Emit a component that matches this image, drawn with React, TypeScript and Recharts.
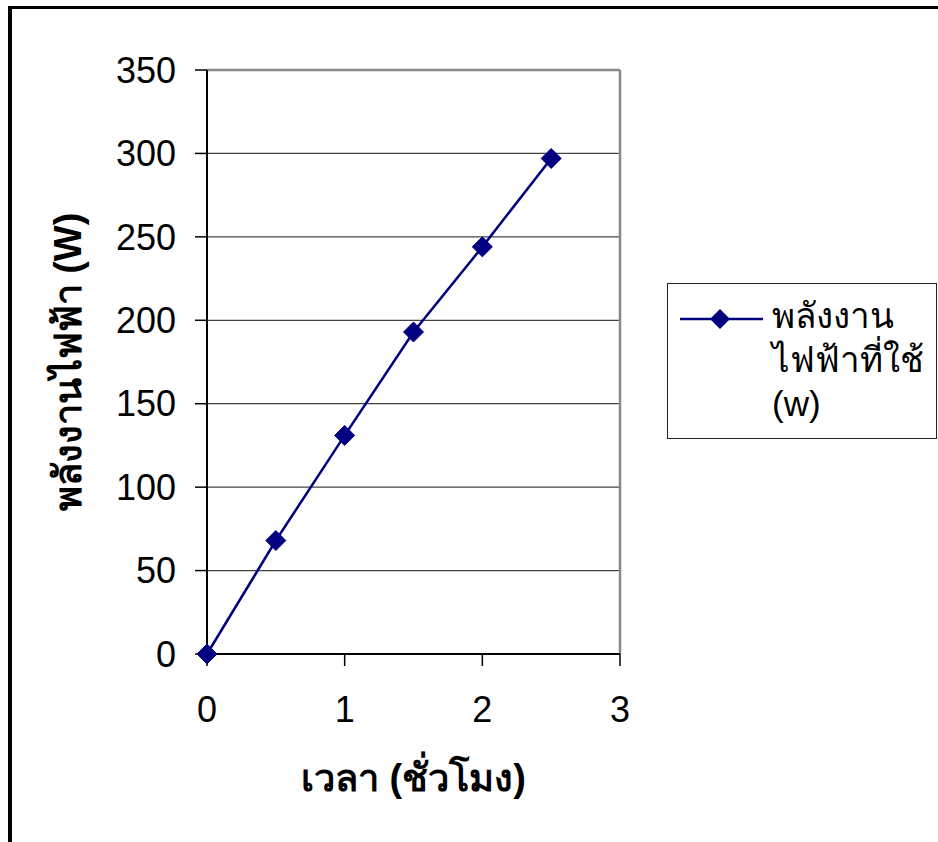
import React from 'react';
import { LineChart, Line, XAxis, YAxis, CartesianGrid, ReferenceLine, Label } from 'recharts';

const hours = [0, 0.5, 1, 1.5, 2, 2.5];
const power = [0, 68, 131, 193, 244, 297];
const xTicks = [0, 1, 2, 3];
const yTicks = [0, 50, 100, 150, 200, 250, 300, 350];
const seriesName = 'พลังงานไฟฟ้าที่ใช้ (w)';
const legendLines = ['พลังงาน', 'ไฟฟ้าที่ใช้', '(w)'];
const xTitle = 'เวลา (ชั่วโมง)';
const yTitle = 'พลังงานไฟฟ้า (W)';

const data = hours.map((h, i) => ({ h, p: power[i] }));

const NAVY = '#000080';
const FONT = 'Tahoma, "Liberation Sans", Arial, sans-serif';

const Diamond = (props: any) => {
  const { cx, cy } = props;
  if (cx == null || cy == null) return null;
  const r = 10;
  return <polygon points={`${cx},${cy - r} ${cx + r},${cy} ${cx},${cy + r} ${cx - r},${cy}`} fill={NAVY} stroke={NAVY} />;
};

const LegendBox = () => (
  <div style={{ position: 'absolute', left: 667, top: 283, boxSizing: 'border-box', width: 270, height: 156, border: '1.5px solid #222', background: '#fff', fontFamily: FONT }}>
    <svg width={100} height={40} style={{ position: 'absolute', left: 12, top: 15 }}>
      <line x1={0} y1={20} x2={83} y2={20} stroke={NAVY} strokeWidth={2.5} />
      <polygon points="40,10 50,20 40,30 30,20" fill={NAVY} />
    </svg>
    <div style={{ position: 'absolute', left: 104, top: 10, fontSize: 35, lineHeight: '44px', color: '#000', whiteSpace: 'nowrap' }}>
      {legendLines.map((l) => (
        <div key={l}>{l}</div>
      ))}
    </div>
  </div>
);

const YTitle = (props: any) => {
  const { viewBox } = props;
  const cx = viewBox.x + 68;
  const cy = viewBox.y + viewBox.height / 2;
  return (
    <text x={cx} y={cy} transform={`rotate(-90 ${cx} ${cy})`} textAnchor="middle" dominantBaseline="central" fontSize={38} fontWeight="bold" fontFamily={FONT} fill="#000">
      {yTitle}
    </text>
  );
};

const XTitle = (props: any) => {
  const { viewBox } = props;
  const cx = viewBox.x + viewBox.width / 2;
  const cy = viewBox.y + 124;
  return (
    <text x={cx} y={cy} textAnchor="middle" dominantBaseline="central" fontSize={38} fontWeight="bold" fontFamily={FONT} fill="#000">
      {xTitle}
    </text>
  );
};

export default function App() {
  return (
    <div style={{ position: 'absolute', left: 0, top: 0, width: 938, height: 842, background: '#fff', overflow: 'hidden' }}>
      <div style={{ position: 'absolute', left: 8, top: 6, width: 930, height: 836, boxSizing: 'border-box', borderTop: '3px solid #000', borderLeft: '4px solid #000' }} />
      <div style={{ position: 'absolute', left: 0, top: 0 }}>
        <LineChart width={938} height={842} data={data} margin={{ top: 70, right: 318, bottom: 128, left: 0 }}>
          <CartesianGrid horizontal vertical={false} stroke="#444" strokeWidth={1.3} />
          <XAxis
            dataKey="h"
            type="number"
            domain={[0, 3]}
            ticks={xTicks}
            height={60}
            tickSize={12}
            tickMargin={30}
            axisLine={{ stroke: '#000', strokeWidth: 2 }}
            tickLine={{ stroke: '#000', strokeWidth: 1.5 }}
            tick={{ fontSize: 36, fill: '#000', fontFamily: '"Liberation Sans", Arial, sans-serif' }}
          >
            <Label content={<XTitle />} />
          </XAxis>
          <YAxis
            type="number"
            domain={[0, 350]}
            ticks={yTicks}
            width={207}
            tickSize={12}
            tickMargin={19}
            axisLine={{ stroke: '#000', strokeWidth: 2 }}
            tickLine={{ stroke: '#000', strokeWidth: 1.5 }}
            tick={{ fontSize: 36, fill: '#000', fontFamily: '"Liberation Sans", Arial, sans-serif' }}
          >
            <Label content={<YTitle />} />
          </YAxis>
          <ReferenceLine y={350} stroke="#888" strokeWidth={2.5} />
          <ReferenceLine x={3} stroke="#888" strokeWidth={2.5} />
          <Line
            type="linear"
            dataKey="p"
            name={seriesName}
            stroke={NAVY}
            strokeWidth={2.5}
            dot={<Diamond />}
            activeDot={false}
            isAnimationActive={false}
          />
        </LineChart>
      </div>
      <LegendBox />
    </div>
  );
}
